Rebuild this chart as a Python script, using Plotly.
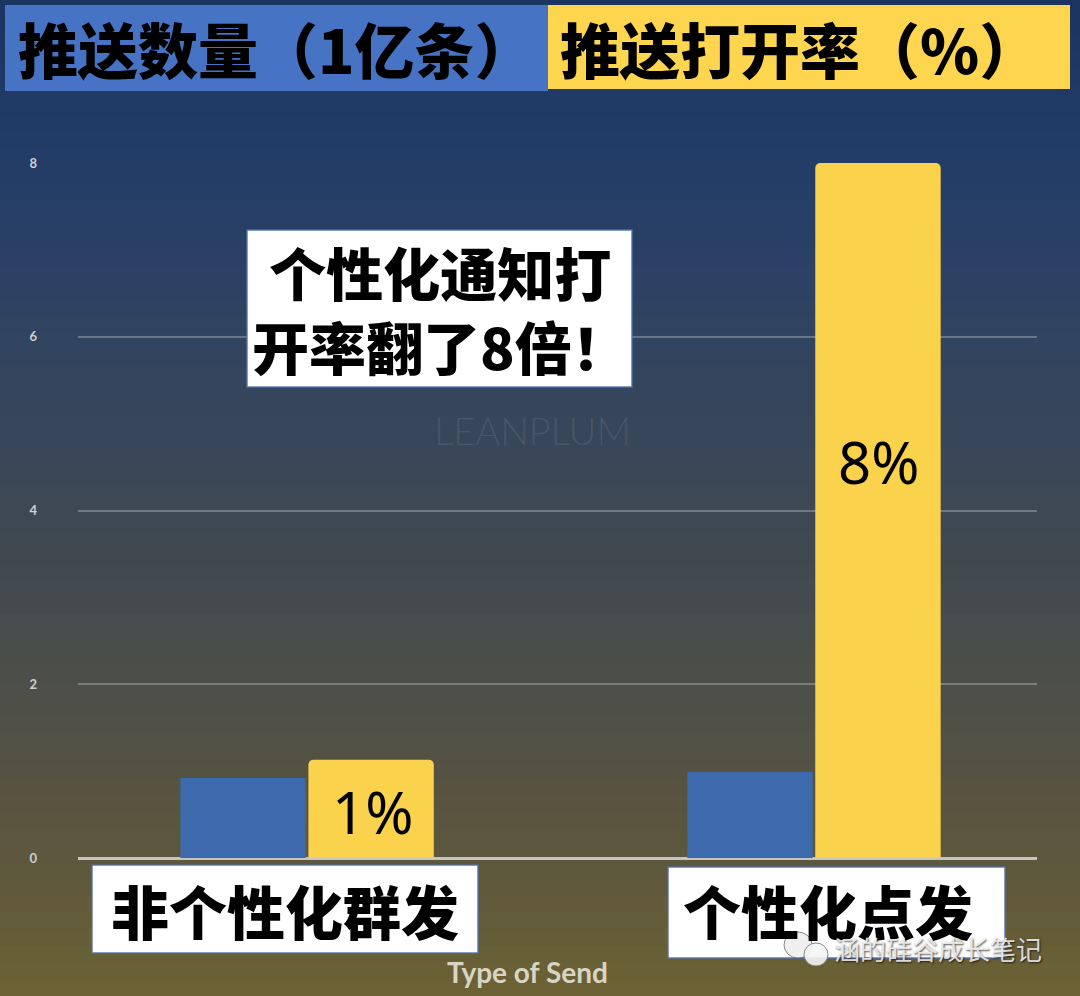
import plotly.graph_objects as go

# chart values
categories = ['非个性化群发', '个性化点发']
push_volume = [0.92, 0.99]      # 推送数量（1亿条）
open_rate = [1.13, 8.0]         # 推送打开率（%）
rate_labels = ['1%', '8%']
y_ticks = [0, 2, 4, 6, 8]

# figure geometry (pixels)
W, H = 1080, 996
L, R, T, B = 78, 43, 163, 138
PW, PH = W - L - R, H - T - B


def px(x):
    return (x - L) / PW


def py(y):
    return (H - B - y) / PH


def box(x0, y0, x1, y1, color, line=None):
    return dict(type='rect', xref='paper', yref='paper', layer='above',
                x0=px(x0), x1=px(x1), y0=py(y1), y1=py(y0),
                fillcolor=color, line=line or dict(width=0))


CJK = 'Noto Sans CJK SC'
EDGE = dict(color='rgba(80,110,170,0.9)', width=1.5)

fig = go.Figure()

fig.add_trace(go.Bar(
    x=categories, y=push_volume, name='推送数量',
    marker=dict(color='#3d69ad', line=dict(width=0)),
    hoverinfo='skip', showlegend=False,
))
fig.add_trace(go.Bar(
    x=categories, y=open_rate, name='推送打开率',
    marker=dict(color='#fbd24c', line=dict(width=0), cornerradius=5),
    hoverinfo='skip', showlegend=False,
))

shapes = []

# background gradient, navy at the top to olive at the bottom
stops = [(0, (28, 52, 96)), (150, (34, 60, 104)), (350, (50, 68, 96)),
         (550, (64, 73, 80)), (750, (82, 81, 68)), (900, (97, 90, 58)),
         (996, (108, 98, 51))]


def grad(y):
    for (a, ca), (b, cb) in zip(stops[:-1], stops[1:]):
        if a <= y <= b:
            t = (y - a) / (b - a)
            return 'rgb(%d,%d,%d)' % tuple(round(ca[k] + (cb[k] - ca[k]) * t) for k in range(3))
    return 'rgb(%d,%d,%d)' % stops[-1][1]


N = 60
for i in range(N):
    y0, y1 = i * H / N, (i + 1) * H / N + 1
    shapes.append(dict(type='rect', xref='paper', yref='paper', layer='below',
                       x0=px(0), x1=px(W), y0=py(y1), y1=py(y0),
                       fillcolor=grad((y0 + y1) / 2), line=dict(width=0)))

# header boxes
shapes.append(box(5, 5, 548, 91, '#4673c4'))
shapes.append(box(548, 5, 1070, 89, '#fed54f'))

# white label boxes
shapes.append(box(247, 230, 632, 387, 'white', EDGE))
shapes.append(box(92, 865, 478, 953, 'white', EDGE))
shapes.append(box(668, 867, 1005, 958, 'white', EDGE))

# wechat icon (two bubbles)
shapes.append(dict(type='circle', xref='paper', yref='paper', layer='above',
                   x0=px(784), x1=px(812), y0=py(958), y1=py(932),
                   fillcolor='rgba(235,235,235,0.8)', line=dict(color='rgba(90,90,90,0.7)', width=1)))
shapes.append(dict(type='circle', xref='paper', yref='paper', layer='above',
                   x0=px(804), x1=px(828), y0=py(966), y1=py(943),
                   fillcolor='rgba(245,245,245,0.9)', line=dict(color='rgba(90,90,90,0.7)', width=1)))

heavy = dict(family=CJK, color='black', weight=900)

annotations = [
    dict(text='推送数量（1亿条）', xref='paper', yref='paper', x=px(16), y=py(48),
         xanchor='left', yanchor='middle', showarrow=False, font=dict(size=60, **heavy)),
    dict(text='推送打开率（%）', xref='paper', yref='paper', x=px(558), y=py(48),
         xanchor='left', yanchor='middle', showarrow=False, font=dict(size=60, **heavy)),
    dict(text='个性化通知打<br>开率翻了8倍！', xref='paper', yref='paper',
         x=px(440), y=py(308), xanchor='center', yanchor='middle', showarrow=False,
         font=dict(size=57, **heavy)),
    dict(text='LEANPLUM', xref='paper', yref='paper', x=px(532), y=py(430),
         xanchor='center', yanchor='middle', showarrow=False,
         font=dict(family='Lato', size=38, color='rgba(255,255,255,0.09)', weight=300)),
    dict(text='Type of Send', xref='paper', yref='paper', x=px(527), y=py(972),
         xanchor='center', yanchor='middle', showarrow=False,
         font=dict(family='Lato', size=28, color='#d8d5c2', weight='bold')),
]

# category labels under the axis
shift = [-22, 14]
for cat, s in zip(categories, shift):
    annotations.append(dict(
        text=cat, xref='x', yref='paper', x=cat, y=py(910), xshift=s,
        xanchor='center', yanchor='middle', showarrow=False,
        font=dict(size=58, **heavy)))

# percentage labels on the yellow bars
label_y = [0.53, 4.56]
for cat, lab, ly in zip(categories, rate_labels, label_y):
    annotations.append(dict(
        text=lab, xref='x', yref='y', x=cat, y=ly, xshift=65,
        xanchor='center', yanchor='middle', showarrow=False,
        font=dict(family='Noto Sans', size=58, color='black')))

# watermark
annotations.append(dict(
    text='涵的硅谷成长笔记', xref='paper', yref='paper', x=px(832), y=py(948),
    xanchor='left', yanchor='middle', showarrow=False,
    font=dict(family=CJK, size=26, color='rgba(240,240,240,0.9)',
              shadow='1px 1px 2px rgba(0,0,0,0.75)')))

fig.update_layout(
    width=W, height=H,
    margin=dict(l=L, r=R, t=T, b=B, pad=0),
    paper_bgcolor='#3f4a55', plot_bgcolor='rgba(0,0,0,0)',
    barmode='group', bargap=0.495, bargroupgap=0.02,
    shapes=shapes, annotations=annotations,
    xaxis=dict(type='category', range=[-0.452, 1.44], showticklabels=False,
               showgrid=False, zeroline=False, showline=False, fixedrange=True),
    yaxis=dict(range=[0, 8], tickvals=y_ticks, showgrid=True,
               gridcolor='rgba(195,200,210,0.38)', gridwidth=1.5,
               zeroline=True, zerolinecolor='rgba(215,215,215,0.85)', zerolinewidth=2.5,
               showline=False, ticks='', ticklabelstandoff=40,
               tickfont=dict(family='Lato', size=13, color='#d0d0d0', weight='bold'),
               fixedrange=True),
)

fig.write_html('out.html', config={'displayModeBar': False},
               post_script="document.body.style.margin='0';")
